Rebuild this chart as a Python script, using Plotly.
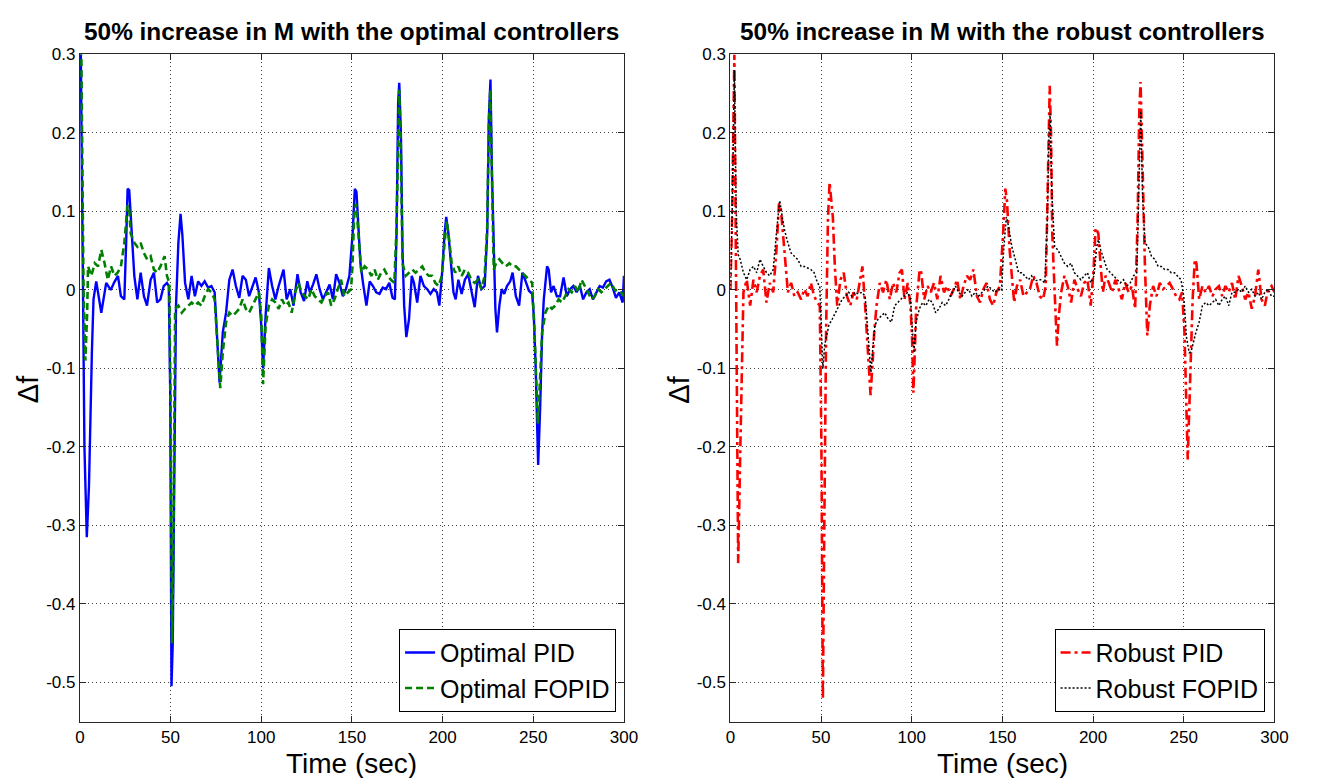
import plotly.graph_objects as go

# ---------------- data ----------------
t_opt_pid = [0, 0.5, 1.5, 2.5, 3.8, 5, 6.6, 7.5, 9, 11.8, 14.5, 17, 19, 21, 22.6, 24.5, 25.5, 26.3, 27.2, 28,
             30, 31.7, 33.5, 35.3, 37, 39, 40.8, 42.6, 44.4, 46.2, 48, 49, 49.8, 50.5, 51.2, 52, 53, 54.3, 55.5, 56.5,
             58, 59.8, 61.6, 63.4, 65.2, 67, 68.8, 70.7, 72.5, 74.3, 76, 77, 78.8, 80.6, 82.4, 84.2, 86, 87.9, 89.7, 91.5,
             93.3, 95.1, 96.9, 98.7, 100, 101, 102.4, 104.2, 106, 107.8, 109.6, 112.3, 114, 116, 117.8, 120, 121.7, 123.6, 125.4, 126.8,
             128.6, 130.4, 132.2, 134, 135.9, 137.7, 139.5, 141.3, 143.1, 145, 146.7, 148.6, 150.4, 151.6, 152.5, 153.4, 154.7, 156.1, 158, 159.8,
             161.6, 163.4, 165.2, 167, 168.8, 170.6, 172.4, 173.7, 174.6, 175.5, 176.1, 177, 177.9, 178.8, 180, 181.5, 183, 184.2, 186, 187.8,
             189.7, 191.5, 193.3, 195.1, 196.9, 198.2, 199.6, 201.1, 202, 203.2, 204.7, 206, 207.2, 208.7, 210.5, 212.3, 214.1, 215.9, 217.7, 219.5,
             221.4, 223.2, 224.6, 225.5, 226.4, 227.2, 228.2, 229.1, 230, 231.3, 232.6, 234, 235.5, 237.3, 238.6, 240.4, 242.2, 244, 245.8, 247.6,
             249.4, 250.3, 251.3, 252.7, 253.8, 254.9, 255.8, 257.6, 258.5, 259.8, 261.2, 263, 264.8, 266.7, 268.5, 270.3, 272.1, 273.9, 275.7, 277.5,
             279.3, 281.1, 282.9, 284.8, 286.6, 288.4, 290.2, 292, 293.8, 295.6, 297.4, 299.3, 300]
v_opt_pid = [0.35, 0.30, 0.05, -0.20, -0.315, -0.25, -0.08, -0.012, 0.011, -0.029, 0.009, 0.0, 0.01, 0.018, -0.008, -0.012, 0.06, 0.129, 0.127, 0.093,
             0.018, -0.012, 0.022, -0.008, -0.02, 0.013, 0.022, -0.016, -0.012, 0.005, 0.009, 0.005, -0.13, -0.505, -0.45, -0.25, -0.02, 0.06, 0.097, 0.07,
             0.009, -0.012, 0.018, -0.008, 0.011, 0.005, 0.011, 0.003, 0.005, -0.003, -0.079, -0.118, -0.054, -0.029, 0.013, 0.026, 0.005, -0.01, 0.018, 0.013,
             -0.008, 0.005, 0.016, -0.003, -0.045, -0.1, -0.033, 0.028, 0.005, -0.012, 0.005, 0.026, -0.012, 0.001, -0.02, 0.02, -0.003, -0.014, 0.011, -0.003,
             0.007, 0.02, 0.001, -0.012, -0.003, 0.007, -0.012, 0.02, 0.009, -0.008, 0.001, 0.018, 0.072, 0.129, 0.125, 0.081, 0.034, 0.009, -0.02, 0.011,
             0.005, -0.003, -0.005, 0.003, 0.001, 0.009, -0.01, -0.012, 0.072, 0.24, 0.264, 0.2, 0.05, -0.02, -0.06, -0.037, 0.018, 0.009, -0.016, 0.018,
             0.005, 0.001, -0.005, 0.001, -0.003, -0.02, 0.018, 0.072, 0.093, 0.072, 0.03, -0.003, -0.012, 0.013, -0.005, 0.013, 0.02, -0.001, -0.022, 0.018,
             0.001, 0.005, 0.072, 0.22, 0.268, 0.15, 0.051, -0.024, -0.054, -0.02, 0.001, -0.005, 0.005, 0.011, 0.022, -0.008, -0.02, 0.022, 0.011, -0.001,
             -0.005, -0.033, -0.096, -0.223, -0.15, -0.054, -0.012, 0.03, 0.026, -0.003, 0.005, -0.008, -0.008, 0.016, -0.008, 0.001, 0.005, -0.003, 0.005, -0.012,
             -0.003, 0.001, -0.012, -0.003, 0.005, 0.003, 0.011, 0.013, 0.003, -0.01, -0.003, -0.016, 0.018]

t_opt_fopid = [0, 0.8, 2, 3, 4, 4.5, 6.3, 8.2, 10, 11.8, 13.6, 15.4, 17.2, 19, 20.8, 22.6, 24.5, 26.3, 27.2, 28,
               30, 31.7, 33.5, 35.3, 37.1, 39, 40.8, 42.6, 44.4, 46.7, 48, 49.3, 50, 50.8, 51.5, 52, 52.5, 54.3, 56.2, 58,
               59.8, 61.6, 63.4, 65.2, 67, 68.8, 70.7, 72.5, 74.3, 76, 77.4, 78.8, 80.6, 82.4, 84.2, 86, 87.9, 89.7, 91.5, 93.3,
               95.1, 96.9, 98.7, 100, 101, 102.4, 104.2, 106, 107.8, 109.6, 111.4, 113.2, 115, 116.8, 118.7, 120.5, 122.3, 124.1, 125.9, 127.7,
               129.5, 131.3, 133.2, 135, 136.8, 138.6, 140.4, 142.2, 144, 145.8, 147.6, 149.5, 150.3, 151.3, 152.3, 154, 155.2, 157, 158.9, 160.7,
               162.5, 164.3, 166.1, 167.9, 169.7, 171.5, 173.4, 174.6, 175.5, 176.1, 177, 177.9, 179.7, 181.5, 183.3, 185.1, 187, 188.8, 190.6, 192.4,
               194.2, 196, 197.8, 199.6, 201.1, 202.3, 203.6, 205, 206.9, 208.7, 210.5, 212.3, 214.1, 215.9, 217.7, 219.5, 221.4, 223.2, 224.6, 225.5,
               226.3, 227.2, 228.2, 229.5, 231.3, 233.1, 234.9, 236.8, 238.6, 240.4, 242.2, 244, 245.8, 247.6, 249.4, 250.7, 251.6, 252.5, 253.6, 254.9,
               256.7, 258.5, 260.3, 262.1, 264, 265.8, 267.6, 269.4, 271.2, 273, 274.8, 276.6, 278.4, 280.2, 282.1, 283.9, 285.7, 287.5, 289.3, 291.1,
               292.9, 294.7, 296.5, 298.4, 300]
v_opt_fopid = [0.35, 0.3, 0.0, -0.09, -0.03, 0.03, 0.018, 0.034, 0.03, 0.051, 0.034, 0.013, 0.03, 0.018, 0.022, 0.03, 0.06, 0.108, 0.102, 0.072,
               0.06, 0.055, 0.06, 0.047, 0.039, 0.043, 0.026, 0.022, 0.03, 0.043, 0.018, 0.009, -0.15, -0.45, -0.35, -0.1, -0.024, -0.02, -0.029, -0.024,
               -0.02, -0.016, -0.02, -0.016, -0.02, -0.008, 0.001, -0.003, -0.012, -0.079, -0.125, -0.079, -0.041, -0.029, -0.033, -0.029, -0.024, -0.012, -0.024, -0.029,
               -0.02, -0.012, -0.003, -0.033, -0.12, -0.045, -0.02, -0.012, -0.016, -0.024, -0.012, -0.02, -0.016, -0.029, -0.003, 0.009, -0.003, -0.008, -0.012, 0.001,
               -0.008, -0.012, -0.016, -0.008, -0.003, -0.02, -0.012, 0.001, 0.013, -0.008, -0.003, 0.001, 0.03, 0.102, 0.11, 0.051, 0.022, 0.03, 0.026, 0.018,
               0.026, 0.013, 0.022, 0.026, 0.018, 0.013, 0.009, 0.08, 0.22, 0.255, 0.18, 0.034, 0.018, 0.022, 0.026, 0.022, 0.026, 0.03, 0.022, 0.018,
               0.018, 0.009, 0.005, 0.018, 0.06, 0.088, 0.064, 0.034, 0.022, 0.03, 0.018, 0.026, 0.022, 0.013, 0.009, 0.013, 0.001, 0.018, 0.08, 0.21,
               0.255, 0.14, 0.026, 0.034, 0.039, 0.034, 0.03, 0.034, 0.03, 0.03, 0.026, 0.022, 0.018, 0.013, 0.009, -0.054, -0.12, -0.17, -0.12, -0.054,
               -0.029, -0.02, -0.024, -0.02, -0.012, -0.016, -0.008, 0.001, -0.003, 0.005, -0.003, 0.013, 0.005, -0.003, -0.012, -0.008, 0.001, -0.003, 0.001, 0.005,
               0.009, 0.001, -0.003, -0.003, -0.008]

t_rob_pid = [0, 1, 2.2, 3, 4.3, 5.5, 6.5, 7.2, 9, 10.9, 12.7, 14.5, 16.3, 18.1, 19.9, 21.7, 23.6, 25.4, 26.8, 27.7,
             29, 30.4, 31.7, 33.5, 35.3, 37.1, 39, 40.8, 42.6, 44.4, 46.2, 48, 49.3, 50.2, 51, 51.8, 52.8, 53.8, 54.7, 56.5,
             57.6, 58.9, 60.7, 62.5, 64.3, 66.1, 67.9, 69.7, 71.6, 72.8, 74.3, 75.7, 77.3, 78.5, 79.3, 80.6, 82.4, 84.2, 86, 87.9,
             89.7, 91.5, 93.3, 94.6, 96, 97.8, 99.3, 100.2, 100.9, 101.7, 102.4, 104.2, 105, 106.9, 108.7, 110.5, 112.3, 114.1, 115.9, 117.8,
             119.6, 121.4, 123.2, 125, 126.8, 128.6, 130.4, 132.2, 134, 135.9, 137.7, 139.5, 141.3, 143.1, 144.9, 146.7, 148.6, 150.4, 151.6, 152.5,
             154, 155.2, 156.5, 158, 159.8, 161.6, 163.4, 165.2, 167, 168.8, 170.6, 172.4, 173.9, 174.8, 175.6, 176.1, 176.8, 177.5, 178.8, 180.1,
             181.1, 182.4, 184.2, 186, 187.9, 189.7, 191.5, 193.3, 195.1, 196.9, 198.7, 200.2, 201.4, 202.9, 204.2, 205.4, 206.9, 208.7, 210.5, 212.3,
             214.1, 215.9, 217.7, 219.6, 221.4, 223.2, 224.6, 225.5, 226.2, 227.2, 228.6, 229.9, 231.3, 233.1, 235, 236.8, 238.6, 240.4, 242.2, 244,
             245.8, 247.6, 249.1, 250.4, 251.4, 252.2, 253.2, 254.9, 256.1, 257, 258.5, 260.3, 262.1, 263.9, 265.8, 267.6, 269.4, 271.2, 273, 274.8,
             276.6, 278.4, 280.2, 282, 283.9, 285.7, 287.5, 289.3, 291.1, 292.9, 294.7, 296.5, 298.4, 300]
v_rob_pid = [0.0, 0.1, 0.3, 0.0, -0.348, -0.2, -0.05, -0.003, 0.013, -0.02, 0.013, -0.003, 0.018, 0.026, -0.016, 0.009, -0.003, 0.051, 0.11, 0.106,
             0.072, 0.03, -0.003, 0.009, -0.008, -0.003, -0.012, 0.001, -0.008, 0.009, -0.008, -0.016, -0.02, -0.2, -0.522, -0.3, -0.05, 0.09, 0.137, 0.093,
             0.03, -0.02, 0.013, 0.022, -0.008, -0.02, -0.003, -0.012, 0.013, 0.03, -0.02, -0.075, -0.134, -0.09, -0.054, -0.02, 0.009, -0.003, 0.013, -0.012,
             0.009, -0.003, 0.022, 0.026, -0.012, 0.009, -0.02, -0.062, -0.131, -0.08, -0.024, 0.022, 0.026, -0.012, 0.005, -0.003, 0.009, -0.012, 0.018, -0.003,
             0.005, -0.008, 0.001, 0.013, -0.012, 0.005, 0.018, 0.013, 0.026, -0.008, -0.016, 0.001, 0.009, -0.012, -0.02, -0.003, 0.005, 0.072, 0.129, 0.114,
             0.051, 0.018, -0.016, 0.005, 0.013, -0.008, -0.003, 0.001, 0.018, 0.009, -0.008, -0.012, 0.005, 0.114, 0.24, 0.26, 0.2, 0.072, -0.003, -0.071,
             -0.033, -0.003, 0.018, 0.005, -0.016, 0.013, 0.001, -0.008, 0.009, 0.013, -0.02, 0.022, 0.079, 0.072, 0.03, -0.003, 0.018, 0.009, -0.003, 0.013,
             0.001, -0.012, 0.009, -0.003, 0.005, -0.024, 0.093, 0.23, 0.265, 0.15, 0.03, -0.058, -0.02, 0.005, -0.008, 0.009, 0.001, 0.005, 0.009, 0.001,
             -0.008, -0.012, -0.003, -0.054, -0.15, -0.216, -0.14, -0.012, 0.039, 0.034, -0.012, 0.005, -0.003, 0.005, -0.008, 0.001, 0.005, -0.008, 0.005, -0.003,
             0.009, -0.012, 0.018, 0.005, -0.012, -0.003, -0.024, -0.008, 0.026, -0.012, -0.02, 0.001, 0.005, -0.003]

t_rob_fopid = [0, 1, 2.2, 3.2, 4.3, 5.4, 7.2, 9, 10.9, 12.7, 14.5, 16.3, 18.1, 19.9, 21.7, 23.6, 25.4, 27.2, 28.6, 29.9,
               31.7, 33.5, 35.3, 37.1, 39, 40.8, 42.6, 44.4, 46.2, 48, 49.3, 50.3, 51, 52, 54.3, 56.2, 58, 59.8, 61.6, 63.4,
               65.2, 67, 68.8, 70.7, 72.5, 74.3, 76, 77.5, 78.5, 79.7, 81.5, 83.3, 85.1, 87, 88.8, 90.6, 92.4, 94.2, 96, 97.8,
               99.3, 100.5, 101.2, 102.4, 104.2, 106, 107.8, 109.6, 111.4, 113.2, 115, 116.8, 118.7, 120.5, 122.3, 124.1, 125.9, 127.7, 129.5, 131.3,
               133.2, 135, 136.8, 138.6, 140.4, 142.2, 144, 145.8, 147.6, 149.5, 150.7, 152.2, 153.4, 155.2, 157.1, 158.9, 160.7, 162.5, 164.3, 166.1,
               167.9, 169.7, 171.5, 173.4, 174.8, 175.7, 176.3, 177.3, 178.8, 180.6, 182.4, 184.2, 186, 187.9, 189.7, 191.5, 193.3, 195.1, 196.9, 198.7,
               200.5, 202, 203, 204.2, 206, 207.8, 209.6, 211.4, 213.2, 215, 216.8, 218.6, 220.5, 222.3, 224.1, 225.3, 226.3, 227.3, 228.6, 230.4,
               232.2, 234, 235.9, 237.7, 239.5, 241.3, 243.1, 244.9, 246.7, 248.5, 250, 251.5, 253, 254, 256.7, 258.5, 260.3, 262.1, 264, 265.8,
               267.6, 269.4, 271.2, 273, 274.8, 276.6, 278.4, 280.2, 282, 283.9, 285.7, 287.5, 289.3, 291.1, 292.9, 294.7, 296.5, 298.4, 300]
v_rob_fopid = [0.0, 0.1, 0.28, 0.1, 0.045, 0.039, 0.022, 0.013, 0.026, 0.03, 0.022, 0.039, 0.03, 0.022, 0.018, 0.026, 0.072, 0.114, 0.093, 0.076,
               0.06, 0.047, 0.043, 0.039, 0.03, 0.03, 0.028, 0.026, 0.022, 0.009, 0.005, -0.06, -0.1, -0.07, -0.045, -0.037, -0.029, -0.02, -0.012, -0.008,
               -0.003, -0.008, -0.003, -0.005, -0.003, -0.008, -0.054, -0.105, -0.075, -0.045, -0.037, -0.033, -0.029, -0.037, -0.041, -0.02, -0.016, -0.012, -0.008, -0.003,
               -0.012, -0.062, -0.08, -0.041, -0.024, -0.016, -0.02, -0.012, -0.016, -0.029, -0.024, -0.016, -0.02, -0.012, -0.003, 0.005, -0.003, -0.008, -0.003, 0.001,
               -0.008, -0.003, -0.008, -0.003, 0.001, 0.005, 0.001, -0.003, 0.001, -0.001, 0.051, 0.093, 0.081, 0.055, 0.039, 0.022, 0.022, 0.018, 0.013, 0.018,
               0.011, 0.013, 0.013, 0.009, 0.09, 0.2, 0.225, 0.12, 0.055, 0.051, 0.043, 0.034, 0.03, 0.034, 0.022, 0.018, 0.013, 0.018, 0.022, 0.009,
               0.018, 0.055, 0.064, 0.051, 0.039, 0.026, 0.022, 0.018, 0.013, 0.009, 0.013, 0.005, 0.009, 0.018, 0.022, 0.15, 0.228, 0.12, 0.06, 0.055,
               0.043, 0.039, 0.03, 0.03, 0.026, 0.026, 0.022, 0.022, 0.018, 0.013, -0.008, -0.06, -0.08, -0.079, -0.054, -0.041, -0.02, -0.016, -0.02, -0.016,
               -0.012, -0.02, -0.012, -0.008, -0.02, -0.003, -0.003, 0.001, -0.003, 0.005, -0.003, 0.001, -0.008, -0.003, -0.012, -0.003, 0.001, -0.008, -0.008]

x_ticks = [0, 50, 100, 150, 200, 250, 300]
x_ticktext = ["0", "50", "100", "150", "200", "250", "300"]
y_ticks = [0.3, 0.2, 0.1, 0, -0.1, -0.2, -0.3, -0.4, -0.5]
y_ticktext = ["0.3", "0.2", "0.1", "0", "-0.1", "-0.2", "-0.3", "-0.4", "-0.5"]

title_left = "50% increase in M with the optimal controllers"
title_right = "50% increase in M with the robust controllers"
x_title = "Time (sec)"
y_title = "Δf"

# ---------------- figure ----------------
W, H = 1317, 778
FONT = "Liberation Sans, Arial, sans-serif"

fig = go.Figure()
fig.add_trace(go.Scatter(x=t_opt_pid, y=v_opt_pid, mode="lines", name="Optimal PID",
                         line=dict(color="#0000FF", width=2.4), xaxis="x", yaxis="y", legend="legend"))
fig.add_trace(go.Scatter(x=t_opt_fopid, y=v_opt_fopid, mode="lines", name="Optimal FOPID",
                         line=dict(color="#008000", width=2.6, dash="7px,4px"), xaxis="x", yaxis="y", legend="legend"))
fig.add_trace(go.Scatter(x=t_rob_pid, y=v_rob_pid, mode="lines", name="Robust PID",
                         line=dict(color="#FF0000", width=2.6, dash="10px,4px,3px,4px"), xaxis="x2", yaxis="y2", legend="legend2"))
fig.add_trace(go.Scatter(x=t_rob_fopid, y=v_rob_fopid, mode="lines", name="Robust FOPID",
                         line=dict(color="#000000", width=1.5, dash="2px,2px"), xaxis="x2", yaxis="y2", legend="legend2"))

xl = (76 / W, 628 / W)
xr = (736 / W, 1288 / W)
yd = (1 - 721 / H, 1 - 46 / H)

def xaxis(dom, anchor):
    return dict(domain=list(dom), anchor=anchor, range=[0, 300], tickmode="array", tickvals=x_ticks,
                ticktext=x_ticktext, ticks="inside", ticklen=6, tickcolor="#262626", showline=True,
                linecolor="#262626", linewidth=1, mirror="ticks", showgrid=True, gridcolor="#404040",
                griddash="1px,3px", gridwidth=1, zeroline=False,
                tickfont=dict(family=FONT, size=17, color="#000000"))

def yaxis(anchor):
    return dict(domain=list(yd), anchor=anchor, range=[-0.55, 0.3], tickmode="array", tickvals=y_ticks,
                ticktext=y_ticktext, ticks="inside", ticklen=6, tickcolor="#262626", showline=True,
                linecolor="#262626", linewidth=1, mirror="ticks", showgrid=True, gridcolor="#404040",
                griddash="1px,3px", gridwidth=1, zeroline=False,
                tickfont=dict(family=FONT, size=17, color="#000000"))

legend_common = dict(bgcolor="#FFFFFF", bordercolor="#000000", borderwidth=1,
                     font=dict(family=FONT, size=25, color="#000000"),
                     xanchor="right", yanchor="bottom", tracegroupgap=0, itemwidth=30)

fig.update_layout(
    width=W, height=H, margin=dict(l=0, r=0, t=0, b=0),
    paper_bgcolor="#FFFFFF", plot_bgcolor="#FFFFFF",
    xaxis=xaxis(xl, "y"), yaxis=yaxis("x"),
    xaxis2=xaxis(xr, "y2"), yaxis2=yaxis("x2"),
    legend=dict(x=620 / W, y=1 - 711 / H, **legend_common),
    legend2=dict(x=1278 / W, y=1 - 711 / H, **legend_common),
    showlegend=True,
    annotations=[
        dict(text="<b>" + title_left + "</b>", x=352 / W, y=1 - 22.5 / H, xref="paper", yref="paper",
             showarrow=False, xanchor="center", yanchor="middle", font=dict(family=FONT, size=24.4, color="#000000")),
        dict(text="<b>" + title_right + "</b>", x=1012 / W, y=1 - 22.5 / H, xref="paper", yref="paper",
             showarrow=False, xanchor="center", yanchor="middle", font=dict(family=FONT, size=24.4, color="#000000")),
        dict(text=x_title, x=352 / W, y=1 - 763 / H, xref="paper", yref="paper", showarrow=False,
             xanchor="center", yanchor="middle", font=dict(family=FONT, size=28, color="#000000")),
        dict(text=x_title, x=1012 / W, y=1 - 763 / H, xref="paper", yref="paper", showarrow=False,
             xanchor="center", yanchor="middle", font=dict(family=FONT, size=28, color="#000000")),
        dict(text=y_title, x=23 / W, y=1 - 385 / H, xref="paper", yref="paper", showarrow=False, textangle=-90,
             xanchor="center", yanchor="middle", font=dict(family=FONT, size=29, color="#000000")),
        dict(text=y_title, x=683 / W, y=1 - 385 / H, xref="paper", yref="paper", showarrow=False, textangle=-90,
             xanchor="center", yanchor="middle", font=dict(family=FONT, size=29, color="#000000")),
    ],
)

fig.write_html("out.html",
               post_script="document.body.style.margin='0';document.body.style.padding='0';document.body.style.overflow='hidden';")
